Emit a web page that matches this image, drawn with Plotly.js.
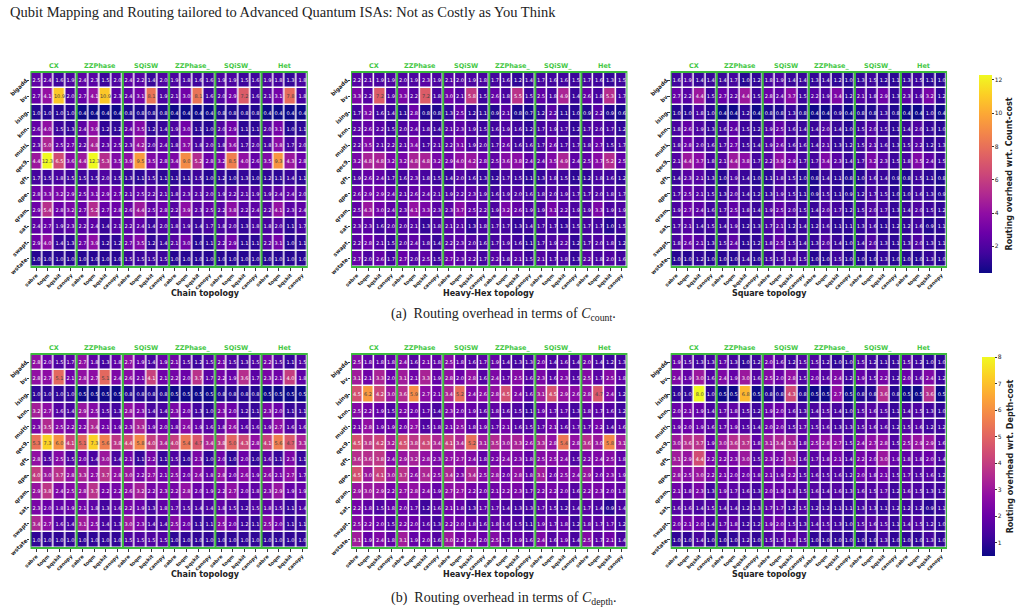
<!DOCTYPE html>
<html>
<head>
<meta charset="utf-8">
<script src="https://cdn.plot.ly/plotly-3.0.1.min.js"></script>
<style>html,body{margin:0;padding:0;background:#fff;}#chart{width:1025px;height:614px;}</style>
</head>
<body>
<div id="chart"></div>
<script>
// ---------- categories ----------
const benchmarks = ['bigadd','bv','ising','knn','multi','qec9','qft','qpe','qram','sat','swapt','wstate'];
const isas = ['CX','ZZPhase','SQiSW','ZZPhase_','SQiSW_','Het'];
const compilers = ['sabre','toqm','bqskit','canopy'];
const topologies = ['Chain topology','Heavy-Hex topology','Square topology'];
const countTicks = [2,4,6,8,10,12];
const depthTicks = [1,2,3,4,5,6,7,8];

// ---------- values (rows = benchmarks, cols = ISA x compiler) ----------
const countChain = [
[2.5,2.4,1.6,1.9, 2.4,2.3,1.5,2.0, 2.4,2.2,1.4,2.0, 1.9,1.8,1.6,1.6, 1.9,1.9,1.5,1.6, 1.9,1.8,1.3,1.8],
[2.7,4.1,10.9,2.0, 2.7,4.1,10.9,2.3, 2.4,3.1,8.1,1.9, 2.1,3.0,8.1,1.6, 2.0,2.9,7.2,1.6, 2.1,3.1,7.8,1.8],
[1.0,1.0,1.0,1.0, 0.4,0.4,0.4,0.4, 0.8,0.8,0.8,0.8, 0.4,0.4,0.4,0.4, 0.8,0.8,0.8,0.8, 0.4,0.4,0.4,0.4],
[2.6,4.0,1.5,1.3, 2.4,3.9,1.2,1.2, 2.4,3.5,1.2,1.4, 1.9,3.0,1.1,1.0, 2.0,2.9,1.1,1.1, 2.0,3.1,1.0,1.1],
[2.3,5.0,2.5,2.7, 2.2,4.8,2.3,2.5, 2.3,4.2,2.0,2.4, 1.8,3.7,1.8,2.0, 1.8,3.6,1.7,2.0, 1.8,3.8,1.7,2.0],
[4.4,12.3,6.5,3.6, 4.4,12.3,5.3,3.5, 3.9,9.5,3.5,2.8, 3.4,9.0,5.2,2.8, 3.2,8.5,4.0,2.6, 3.5,9.3,4.3,2.8],
[1.7,1.5,1.8,1.5, 1.5,1.5,2.0,1.5, 1.3,1.1,1.5,1.1, 1.1,1.1,1.5,1.0, 1.2,1.0,1.3,1.0, 1.2,1.1,1.4,1.1],
[2.8,3.3,3.2,2.9, 2.5,3.1,2.9,2.7, 2.1,2.5,2.2,2.1, 1.8,2.3,2.1,2.0, 1.9,2.2,2.1,1.9, 1.9,2.4,2.4,2.0],
[2.9,5.4,2.8,3.2, 2.7,5.2,2.7,2.8, 2.6,4.4,2.5,2.8, 2.2,3.9,2.3,2.5, 2.2,3.8,2.2,2.4, 2.2,4.1,2.3,2.4],
[2.4,2.7,1.9,2.3, 2.2,2.4,1.4,2.1, 2.2,2.4,1.4,2.0, 1.8,1.9,1.4,1.7, 1.8,2.0,1.3,1.8, 1.8,2.0,1.1,1.7],
[2.9,4.0,1.4,1.3, 2.7,3.9,1.2,1.2, 2.7,3.5,1.2,1.4, 2.1,3.0,1.0,1.1, 2.2,2.9,1.1,1.1, 2.2,3.1,1.0,1.1],
[1.0,1.0,1.0,1.0, 1.0,1.0,1.0,1.0, 1.5,1.5,1.5,1.5, 1.0,1.0,1.0,1.0, 1.0,1.0,1.0,1.0, 1.0,1.0,1.0,1.0]
];
const countHeavyHex = [
[2.2,2.1,1.9,1.9, 2.0,1.9,2.3,1.9, 2.1,2.0,1.9,1.8, 1.7,1.6,1.2,1.4, 1.7,1.6,1.6,1.5, 1.7,1.6,1.3,1.5],
[3.3,2.2,7.2,1.9, 3.3,2.2,7.2,1.8, 3.0,2.1,5.8,1.5, 2.6,1.8,5.5,1.5, 2.5,1.8,4.9,1.4, 2.6,1.8,5.3,1.7],
[1.7,3.2,1.6,1.4, 1.1,2.8,0.8,0.8, 1.3,2.5,1.2,1.1, 0.9,2.1,0.8,0.7, 1.2,2.2,1.1,1.0, 0.9,2.2,0.9,0.6],
[2.2,2.6,2.2,1.5, 2.0,2.4,1.8,1.4, 2.1,2.3,1.9,1.5, 1.6,1.9,1.6,1.2, 1.7,1.9,1.7,1.2, 1.7,2.0,1.7,1.2],
[2.2,3.5,2.1,2.2, 2.1,3.4,1.7,2.1, 2.2,3.1,1.9,2.0, 1.7,2.6,1.6,1.6, 1.7,2.6,1.7,1.7, 1.8,2.7,1.5,1.7],
[3.2,4.8,4.8,3.2, 3.2,4.8,4.8,3.2, 2.9,4.0,4.2,2.8, 2.5,3.6,3.8,2.4, 2.4,3.5,4.9,2.4, 2.5,3.7,5.2,2.5],
[1.9,2.6,2.4,1.7, 1.6,2.3,1.8,1.5, 1.4,2.0,1.6,1.3, 1.2,1.7,1.5,1.1, 1.3,1.8,1.5,1.1, 1.2,1.8,1.6,1.2],
[2.6,2.9,2.9,2.4, 2.1,2.6,2.4,2.1, 1.9,2.2,2.3,1.9, 1.6,1.9,2.0,1.6, 1.8,2.0,1.9,1.7, 1.7,2.0,1.8,1.7],
[2.5,4.3,3.0,2.4, 2.3,4.1,3.3,2.3, 2.3,3.7,2.5,2.2, 1.9,3.2,2.6,1.9, 1.9,3.1,2.2,1.9, 1.9,3.3,1.9,1.9],
[2.3,2.3,1.6,2.0, 2.0,2.1,1.3,1.8, 2.1,2.1,1.3,1.8, 1.7,1.7,1.3,1.4, 1.7,1.7,1.3,1.5, 1.7,1.7,1.0,1.5],
[2.2,2.8,2.1,1.5, 2.0,2.4,1.8,1.4, 2.2,2.3,2.0,1.6, 1.7,1.9,1.6,1.1, 1.7,1.9,2.2,1.2, 1.7,2.0,1.8,1.2],
[2.7,2.0,2.6,1.7, 2.7,2.0,2.5,1.5, 2.7,2.3,2.2,1.7, 2.2,1.8,2.1,1.5, 2.1,1.7,1.8,1.3, 2.2,1.8,2.0,1.6]
];
const countSquare = [
[1.6,1.9,1.4,1.4, 1.4,1.7,1.0,1.2, 1.8,1.9,1.4,1.4, 1.3,1.4,1.2,1.0, 1.3,1.5,1.2,1.1, 1.3,1.5,1.1,1.0],
[2.7,2.2,4.4,1.5, 2.7,2.2,4.4,1.5, 2.8,2.4,3.7,1.5, 2.2,1.9,3.4,1.2, 2.1,1.8,2.9,1.3, 2.3,1.9,3.2,1.2],
[1.0,1.0,1.8,1.0, 0.4,0.4,1.2,0.4, 0.8,0.8,1.3,0.8, 0.4,0.4,0.9,0.4, 0.8,0.8,1.3,0.8, 0.4,0.4,1.0,0.4],
[1.8,2.6,1.9,1.3, 1.6,2.4,1.5,1.2, 1.9,2.5,1.6,1.4, 1.4,2.0,1.4,1.0, 1.5,2.0,1.5,1.1, 1.4,2.0,1.3,1.0],
[1.8,2.8,2.0,1.6, 1.7,2.7,1.5,1.4, 1.9,2.6,1.6,1.6, 1.4,2.1,1.3,1.2, 1.5,2.1,1.6,1.3, 1.5,2.2,1.2,1.3],
[2.1,4.4,3.7,1.8, 2.1,4.4,3.8,1.7, 2.2,3.9,2.9,1.7, 1.7,3.4,2.3,1.4, 1.7,3.2,2.3,1.5, 1.8,3.5,2.4,1.5],
[1.4,2.3,2.1,1.3, 1.0,1.9,1.4,1.0, 1.1,1.8,1.5,1.0, 0.8,1.4,1.1,0.8, 1.0,1.6,1.4,0.9, 0.8,1.5,1.1,0.8],
[1.7,2.5,2.1,1.5, 1.3,2.0,1.4,1.2, 1.3,1.9,1.5,1.1, 0.9,1.5,1.1,0.9, 1.2,1.7,1.5,1.0, 1.0,1.6,1.3,0.9],
[1.9,2.7,2.4,1.6, 1.7,2.5,1.8,1.4, 1.9,2.5,2.0,1.5, 1.4,2.0,1.7,1.2, 1.5,2.0,1.7,1.3, 1.4,2.0,1.5,1.2],
[1.7,2.1,1.4,1.5, 1.4,1.9,1.2,1.3, 1.7,2.1,1.2,1.4, 1.2,1.6,1.1,1.1, 1.3,1.6,1.1,1.2, 1.2,1.6,0.9,1.1],
[1.8,2.6,2.1,1.3, 1.5,2.4,1.1,1.2, 1.8,2.5,1.5,1.4, 1.3,2.0,1.4,1.0, 1.4,2.0,1.3,1.1, 1.3,2.0,1.3,1.1],
[1.0,1.0,1.2,1.0, 1.0,1.0,1.4,1.0, 1.5,1.5,1.8,1.5, 1.0,1.0,1.5,1.0, 1.0,1.0,1.3,1.0, 1.0,1.0,1.3,1.0]
];
const depthChain = [
[2.8,2.0,1.5,1.7, 2.7,1.8,1.3,1.8, 2.7,1.9,1.4,1.9, 2.1,1.5,1.2,1.5, 2.1,1.5,1.3,1.5, 2.2,1.5,1.1,1.5],
[2.8,2.7,5.1,2.1, 2.8,2.7,5.1,2.4, 2.6,2.1,4.1,2.1, 2.2,2.0,3.7,1.7, 2.2,1.9,3.6,1.7, 2.3,2.1,4.0,1.8],
[1.0,1.0,1.0,1.0, 0.5,0.5,0.5,0.5, 0.8,0.8,0.8,0.8, 0.5,0.5,0.5,0.5, 0.8,0.8,0.8,0.8, 0.5,0.5,0.5,0.5],
[3.2,2.7,1.6,1.4, 2.9,2.5,1.5,1.3, 2.8,2.3,1.4,1.4, 2.3,2.0,1.3,1.0, 2.3,2.0,1.2,1.1, 2.3,2.0,1.1,1.1],
[2.3,3.5,2.5,2.2, 2.2,3.4,2.1,1.9, 2.3,3.3,1.9,2.0, 1.8,2.6,1.9,1.6, 1.8,2.6,1.6,1.6, 1.9,2.7,1.6,1.6],
[5.3,7.3,6.0,4.1, 5.1,7.3,5.6,3.8, 4.4,5.8,4.0,3.4, 4.0,5.4,4.7,3.4, 3.8,5.0,4.3,2.8, 4.1,5.6,4.7,3.3],
[2.8,1.5,2.5,1.5, 2.0,1.4,3.0,1.4, 2.1,1.1,2.2,1.1, 1.5,1.0,2.3,1.0, 2.0,1.0,2.0,1.0, 1.6,1.1,2.3,1.1],
[4.0,3.0,3.7,2.8, 3.3,2.7,3.7,2.8, 3.0,2.2,2.7,2.1, 2.5,2.0,2.6,1.8, 2.8,2.0,2.6,1.9, 2.6,2.1,2.7,1.7],
[2.9,3.8,2.4,2.5, 2.8,3.7,2.2,2.2, 2.6,3.2,2.2,2.3, 2.2,2.8,2.0,1.9, 2.2,2.7,2.0,1.8, 2.3,2.9,1.9,1.9],
[2.3,2.0,1.8,1.9, 2.1,1.8,1.3,1.6, 2.2,1.9,1.3,1.8, 1.7,1.5,1.4,1.4, 1.8,1.5,1.2,1.5, 1.8,1.5,1.1,1.4],
[3.4,2.7,1.6,1.4, 3.1,2.5,1.4,1.3, 3.0,2.3,1.4,1.4, 2.5,2.0,1.1,1.1, 2.5,2.0,1.2,1.1, 2.5,2.0,1.1,1.1],
[1.0,1.0,1.0,1.0, 1.0,1.0,1.0,1.0, 1.5,1.5,1.5,1.5, 1.0,1.0,1.0,1.0, 1.0,1.0,1.0,1.0, 1.0,1.0,1.0,1.0]
];
const depthHeavyHex = [
[2.5,1.8,1.8,1.8, 2.4,1.6,2.1,1.8, 2.5,1.8,1.6,1.7, 1.9,1.4,1.3,1.3, 2.0,1.4,1.6,1.4, 2.0,1.4,1.2,1.3],
[3.1,2.1,3.3,2.0, 3.1,2.1,3.3,1.9, 2.8,2.0,2.8,1.6, 2.4,1.7,2.5,1.6, 2.3,1.6,2.3,1.5, 2.5,1.7,2.5,1.8],
[4.5,6.2,4.2,3.0, 3.6,5.9,2.7,2.1, 3.4,5.2,2.4,2.6, 2.8,4.5,2.4,1.6, 3.1,4.5,2.9,2.6, 2.8,4.7,2.4,1.2],
[2.5,2.2,1.9,1.5, 2.2,2.0,1.7,1.4, 2.3,2.0,1.9,1.6, 1.8,1.6,1.5,1.1, 1.9,1.7,1.7,1.3, 1.8,1.7,1.6,1.2],
[2.1,2.8,1.9,1.9, 2.0,2.7,1.5,1.8, 2.1,2.5,1.8,1.9, 1.7,2.1,1.6,1.5, 1.7,2.1,1.6,1.7, 1.7,2.2,1.4,1.6],
[4.5,3.8,4.2,3.2, 4.5,3.8,4.3,3.4, 4.1,3.4,5.2,3.1, 3.5,3.0,3.3,2.6, 3.3,2.8,5.4,2.8, 3.6,3.0,5.8,3.1],
[3.6,3.6,3.8,2.4, 2.9,3.2,2.8,2.3, 2.7,2.7,2.4,1.8, 2.2,2.4,2.3,1.8, 2.5,2.5,2.4,1.5, 2.2,2.4,2.5,1.8],
[4.5,3.0,4.1,3.0, 3.7,2.6,3.4,2.5, 3.4,2.3,3.4,2.5, 2.8,2.0,2.8,1.8, 3.1,2.0,2.5,2.4, 2.9,2.0,2.3,1.9],
[2.9,3.0,2.9,2.2, 2.7,2.8,2.4,1.9, 2.7,2.7,2.2,2.0, 2.1,2.2,2.3,1.7, 2.2,2.2,2.0,1.6, 2.2,2.3,2.0,1.8],
[2.2,1.8,1.5,1.8, 2.0,1.7,1.2,1.6, 2.1,1.8,1.3,1.7, 1.7,1.4,1.3,1.3, 1.7,1.5,1.2,1.4, 1.7,1.4,0.9,1.4],
[2.5,2.2,2.0,1.5, 2.2,2.0,1.6,1.3, 2.2,2.0,1.8,1.6, 1.8,1.6,1.5,1.1, 1.9,1.7,1.8,1.2, 1.8,1.7,1.7,1.2],
[3.1,1.9,2.4,1.8, 3.1,1.9,2.0,1.6, 3.0,2.2,2.4,2.0, 2.5,1.7,1.9,1.6, 2.4,1.6,1.9,1.4, 2.5,1.7,2.1,1.4]
];
const depthSquare = [
[1.9,1.5,1.3,1.3, 1.7,1.3,1.0,1.2, 2.0,1.6,1.2,1.5, 1.5,1.2,1.0,1.0, 1.5,1.2,1.1,1.1, 1.5,1.2,1.0,1.0],
[2.4,1.9,3.0,1.6, 2.4,1.9,3.0,1.6, 2.5,2.0,2.8,1.5, 2.0,1.6,2.4,1.2, 1.9,1.5,2.2,1.2, 2.0,1.6,2.4,1.2],
[1.0,1.0,8.0,1.0, 0.5,0.5,6.8,0.5, 0.8,0.8,4.3,0.8, 0.5,0.5,2.7,0.5, 0.8,0.8,3.6,0.8, 0.5,0.5,3.6,0.5],
[2.0,2.1,1.9,1.4, 1.7,1.8,1.5,1.2, 1.9,2.0,1.6,1.3, 1.4,1.5,1.4,1.0, 1.5,1.6,1.5,1.1, 1.4,1.5,1.3,1.0],
[1.9,2.0,1.9,1.6, 1.7,1.9,1.5,1.4, 2.0,2.0,1.5,1.7, 1.5,1.6,1.3,1.3, 1.5,1.6,1.6,1.2, 1.5,1.6,1.2,1.2],
[3.0,3.6,3.7,1.9, 3.0,3.6,3.7,1.8, 3.1,3.4,3.3,1.8, 2.5,2.8,2.7,1.5, 2.4,2.7,2.8,1.5, 2.5,2.9,2.9,1.6],
[3.1,2.9,4.4,2.2, 2.2,2.3,3.0,1.5, 2.3,2.2,3.1,1.6, 1.7,1.8,2.1,1.4, 2.2,2.0,3.0,1.9, 1.8,1.8,2.0,1.4],
[2.8,2.5,3.0,2.2, 2.1,2.0,2.0,1.8, 2.1,1.9,2.2,1.5, 1.6,1.5,1.6,1.2, 2.0,1.8,2.1,1.5, 1.7,1.5,1.6,1.2],
[2.1,1.8,2.3,1.3, 1.9,1.7,1.6,1.3, 2.0,1.9,1.8,1.5, 1.6,1.4,1.6,1.3, 1.6,1.5,1.7,1.2, 1.6,1.5,1.3,1.2],
[1.6,1.6,1.4,1.5, 1.4,1.4,1.2,1.3, 1.7,1.7,1.2,1.5, 1.2,1.2,1.1,1.1, 1.3,1.3,1.1,1.2, 1.2,1.2,0.9,1.1],
[2.0,2.1,2.0,1.4, 1.7,1.8,1.2,1.2, 1.9,2.0,1.5,1.3, 1.4,1.5,1.3,1.0, 1.5,1.6,1.5,1.1, 1.4,1.5,1.2,1.0],
[1.0,1.0,1.4,1.0, 1.0,1.0,1.2,1.0, 1.5,1.5,1.8,1.5, 1.0,1.0,1.0,1.0, 1.0,1.0,1.3,1.0, 1.0,1.0,1.3,1.0]
];

// ---------- styling / layout constants ----------
const plasma = [
  [0.0,'#0d0887'],[0.1,'#41049d'],[0.2,'#6a00a8'],[0.3,'#8f0da4'],[0.4,'#b12a90'],
  [0.5,'#cc4778'],[0.6,'#e16462'],[0.7,'#f2844b'],[0.8,'#fca636'],[0.9,'#fcce25'],[1.0,'#f0f921']
];
const GREEN = '#3dbb3d';
const FONT = 'DejaVu Sans, sans-serif';
const W = 1025, H = 614;
const colPx = [[31,313],[357,638],[682,963]];
const rowPx = [[72,267],[354,548]];
const px2x = p => p / W;
const px2y = p => 1 - p / H;

const xs = [];
const tickText = [];
isas.forEach((isa, g) => compilers.forEach((c, k) => { xs.push(g * compilers.length + k); tickText.push(c); }));

const rows = [
  {panels: [countChain, countHeavyHex, countSquare], zmin: 0.4, zmax: 12.3, ticks: countTicks,
   cbTitle: 'Routing overhead wrt. Count-cost', cbX: 986, cbTop: 65, cbLen: 218},
  {panels: [depthChain, depthHeavyHex, depthSquare], zmin: 0.5, zmax: 8.0, ticks: depthTicks,
   cbTitle: 'Routing overhead wrt. Depth-cost', cbX: 989, cbTop: 347, cbLen: 219}
];

const data = [];
const layout = {
  width: W, height: H,
  margin: {l: 0, r: 0, t: 0, b: 0},
  paper_bgcolor: '#fff', plot_bgcolor: '#fff',
  font: {family: FONT, color: '#222'},
  showlegend: false,
  shapes: [], annotations: []
};

let n = 0;
rows.forEach((row, r) => {
  row.panels.forEach((z, c) => {
    n += 1;
    const xa = 'x' + (n === 1 ? '' : n), ya = 'y' + (n === 1 ? '' : n);
    const xk = 'xaxis' + (n === 1 ? '' : n), yk = 'yaxis' + (n === 1 ? '' : n);
    const trace = {
      type: 'heatmap', z: z, x: xs, y: benchmarks, xaxis: xa, yaxis: ya,
      colorscale: plasma, zmin: row.zmin, zmax: row.zmax,
      xgap: 1.5, ygap: 1.5,
      texttemplate: '%{z:.1f}', textfont: {size: 5, family: FONT},
      hoverinfo: 'skip', showscale: c === 2
    };
    if (c === 2) {
      trace.colorbar = {
        x: px2x(row.cbX), xanchor: 'left', y: px2y(row.cbTop), yanchor: 'top',
        thickness: 13, len: row.cbLen, lenmode: 'pixels',
        outlinewidth: 0, tickvals: row.ticks, ticks: 'outside', ticklen: 2, tickcolor: '#333',
        tickfont: {size: 6, family: FONT},
        title: {text: row.cbTitle, side: 'right', font: {size: 8, family: FONT, weight: 'bold'}}
      };
    }
    data.push(trace);
    layout[xk] = {
      domain: [px2x(colPx[c][0]), px2x(colPx[c][1])], anchor: ya,
      range: [-0.5, xs.length - 0.5], tickvals: xs, ticktext: tickText, tickangle: -45,
      tickfont: {size: 5, family: FONT, weight: 'bold', color: '#222'},
      ticks: 'outside', ticklen: 2.5, tickcolor: '#333',
      showgrid: false, zeroline: false, showline: false, fixedrange: true
    };
    layout[yk] = {
      domain: [px2y(rowPx[r][1]), px2y(rowPx[r][0])], anchor: xa,
      type: 'category', autorange: 'reversed', tickangle: -45,
      tickfont: {size: 5.5, family: FONT, weight: 'bold', color: '#222'},
      ticks: 'outside', ticklen: 2.5, tickcolor: '#333',
      showgrid: false, zeroline: false, showline: false, fixedrange: true
    };
    // green border + ISA separators
    layout.shapes.push({type: 'rect', xref: xa, yref: ya + ' domain', x0: -0.5, x1: xs.length - 0.5, y0: 0, y1: 1,
      line: {color: GREEN, width: 2}, layer: 'above'});
    for (let g = 1; g < isas.length; g++) {
      const xv = g * compilers.length - 0.5;
      layout.shapes.push({type: 'line', xref: xa, yref: ya + ' domain', x0: xv, x1: xv, y0: 0, y1: 1,
        line: {color: GREEN, width: 2}, layer: 'above'});
    }
    // ISA group labels
    isas.forEach((isa, g) => {
      layout.annotations.push({
        text: isa, xref: xa, yref: 'paper', x: g * compilers.length + (compilers.length - 1) / 2,
        y: px2y(rowPx[r][0] - 6), yanchor: 'middle', showarrow: false,
        font: {size: 6.5, family: FONT, color: '#44c844', weight: 'bold'}
      });
    });
    // topology axis titles
    layout.annotations.push({
      text: topologies[c], xref: 'paper', yref: 'paper',
      x: px2x((colPx[c][0] + colPx[c][1]) / 2), y: px2y(rowPx[r][1] + 26),
      yanchor: 'middle', showarrow: false,
      font: {size: 8, family: FONT, color: '#222', weight: 'bold'}
    });
  });
});

// page title and captions
layout.annotations.push({
  text: 'Qubit Mapping and Routing tailored to Advanced Quantum ISAs: Not as Costly as You Think',
  xref: 'paper', yref: 'paper', x: px2x(8), y: px2y(12), xanchor: 'left', yanchor: 'middle',
  showarrow: false, font: {size: 14.5, family: 'Liberation Serif, serif', color: '#222'}
});
layout.annotations.push({
  text: '(a)  Routing overhead in terms of <i>C</i><sub>count</sub>.',
  xref: 'paper', yref: 'paper', x: px2x(512), y: px2y(314), xanchor: 'center', yanchor: 'middle',
  showarrow: false, font: {size: 14, family: 'Liberation Serif, serif', color: '#222'}
});
layout.annotations.push({
  text: '(b)  Routing overhead in terms of <i>C</i><sub>depth</sub>.',
  xref: 'paper', yref: 'paper', x: px2x(512), y: px2y(598), xanchor: 'center', yanchor: 'middle',
  showarrow: false, font: {size: 14, family: 'Liberation Serif, serif', color: '#222'}
});

Plotly.newPlot('chart', data, layout, {displayModeBar: false, staticPlot: true});
</script>
</body>
</html>
